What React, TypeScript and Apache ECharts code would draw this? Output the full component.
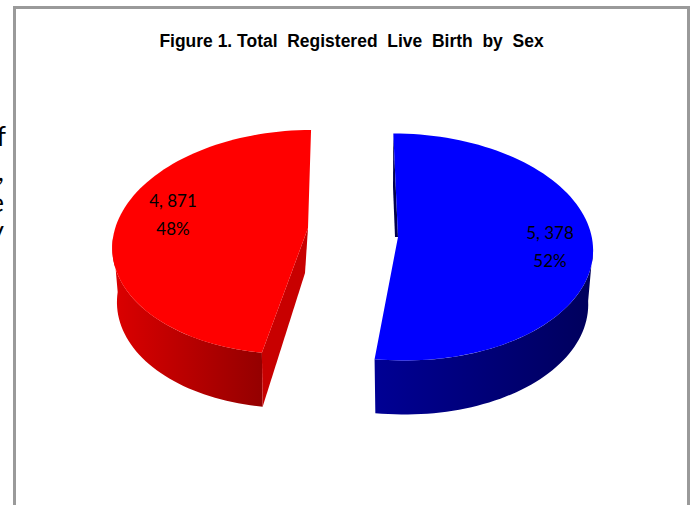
import React, { useEffect, useRef } from "react";
import * as echarts from "echarts";

const titleText = "Figure 1. Total  Registered  Live  Birth  by  Sex";
const sexes = ["Male", "Female"];
const births = [5378, 4871];
const labelCounts = ["5, 378", "4, 871"];
const labelPercents = ["52%", "48%"];
const clippedText = ["f", ",", "e", "y"];

const faceColors = ["#0000ff", "#ff0000"];
const wallGradients = [
  ["#000094", "#00005c"],
  ["#dc0000", "#940000"],
];
const innerWallColors = ["#000050", "#c80000"];

// Drawing geometry of each exploded wedge (perspective-like ellipse, shear, apex)
const geometry = [
  { cx: 399, cy: 247, a: 194, b: 113.5, k: 0.05, ax: 398, ay: 237, lx: 550, ly: 232, wallFrom: 90, wallTo: null as number | null },
  { cx: 301, cy: 242, a: 188.5, b: 112, k: -0.0898, ax: 308, ay: 228, lx: 173, ly: 200, wallFrom: null as number | null, wallTo: 272 },
];
const DEPTH = 54;
const LOWER = 0.975;

const total = births.reduce((s, v) => s + v, 0);

function rim(g: any, deg: number, shrink = 1, dy = 0) {
  const t = (deg * Math.PI) / 180;
  const ox = g.a * shrink * Math.sin(t);
  const oy = -g.b * Math.cos(t);
  return [g.cx + ox + g.k * oy, g.cy + oy + dy];
}

function arc(g: any, from: number, to: number, shrink = 1, dy = 0) {
  const pts: number[][] = [];
  const n = Math.max(2, Math.ceil(Math.abs(to - from) / 2));
  for (let i = 0; i <= n; i++) pts.push(rim(g, from + ((to - from) * i) / n, shrink, dy));
  return pts;
}

function renderItem(params: any, api: any) {
  const i = api.value(0);
  const v = api.value(1);
  const g = geometry[i];
  let start = 0;
  for (let j = 0; j < i; j++) start += (births[j] / total) * 360;
  const end = start + (v / total) * 360;
  const wFrom = g.wallFrom === null ? start : g.wallFrom;
  const wTo = g.wallTo === null ? end : g.wallTo;
  const wallPts = [...arc(g, wFrom, wTo), ...arc(g, wTo, wFrom, LOWER, DEPTH)];
  const grad = wallGradients[i];
  const wallFill = new echarts.graphic.LinearGradient(
    1, 0, 0, 0,
    i === 0
      ? [{ offset: 0, color: grad[1] }, { offset: 1, color: grad[0] }]
      : [{ offset: 0, color: grad[1] }, { offset: 1, color: grad[0] }]
  );
  const edge = rim(g, start);
  const edgeLow = rim(g, start, LOWER, DEPTH);
  const children: any[] = [];
  children.push({ type: "polygon", shape: { points: wallPts }, style: { fill: wallFill } });
  if (i === 1) {
    children.push({
      type: "polygon",
      shape: { points: [[g.ax, g.ay], edge, edgeLow, [g.ax - 3, g.ay + 45]] },
      style: { fill: innerWallColors[i] },
    });
  } else {
    children.push({
      type: "polygon",
      shape: { points: [rim(g, start), [g.ax, g.ay], [g.ax - 3, g.ay], [g.ax - 5, g.ay - 50]] },
      style: { fill: innerWallColors[i] },
    });
  }
  children.push({
    type: "polygon",
    shape: { points: [[g.ax, g.ay], ...arc(g, start, end)] },
    style: { fill: faceColors[i] },
  });
  children.push({
    type: "text",
    x: g.lx,
    y: g.ly,
    style: {
      text: labelCounts[i],
      fill: "#000",
      font: '17px Lato, "Open Sans", sans-serif',
      align: "center",
      verticalAlign: "middle",
    },
  });
  children.push({
    type: "text",
    x: g.lx,
    y: g.ly + 28,
    style: {
      text: labelPercents[i],
      fill: "#000",
      font: '17px Lato, "Open Sans", sans-serif',
      align: "center",
      verticalAlign: "middle",
    },
  });
  return { type: "group", children };
}

export default function App() {
  const ref = useRef<HTMLDivElement>(null);
  useEffect(() => {
    document.body.style.margin = "0";
    const chart = echarts.init(ref.current!, undefined, { renderer: "svg" });
    const frameColor = "#9a9a9a";
    chart.setOption({
      animation: false,
      backgroundColor: "#ffffff",
      series: [
        {
          type: "custom",
          coordinateSystem: "none",
          renderItem,
          data: sexes.map((name, i) => ({ name, value: [i, births[i]] })),
          silent: true,
        },
      ],
      graphic: [
        { type: "rect", shape: { x: 13, y: 6, width: 3, height: 500 }, style: { fill: frameColor } },
        { type: "rect", shape: { x: 13, y: 6, width: 677, height: 3 }, style: { fill: frameColor } },
        { type: "rect", shape: { x: 687, y: 6, width: 3, height: 500 }, style: { fill: frameColor } },
        {
          type: "text",
          x: 351.5,
          y: 40,
          scaleX: 0.92,
          style: {
            text: titleText,
            fill: "#000",
            font: 'bold 19px "Liberation Sans", Arial, sans-serif',
            align: "center",
            verticalAlign: "middle",
          },
        },
        ...clippedText.map((t, i) => ({
          type: "text",
          x: [6, 4, 4, 4][i],
          y: [135, 170, 201, 229][i],
          style: {
            text: t,
            fill: "#000",
            font: '27px Lato, "Open Sans", sans-serif',
            align: "right",
            verticalAlign: "middle",
          },
        })),
      ],
    });
    return () => chart.dispose();
  }, []);
  return <div ref={ref} style={{ position: "fixed", left: 0, top: 0, width: 693, height: 505 }} />;
}
